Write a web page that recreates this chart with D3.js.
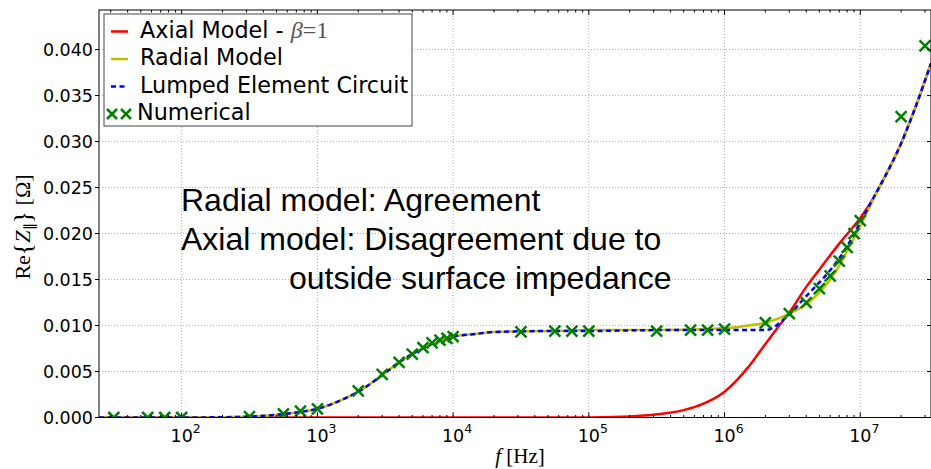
<!DOCTYPE html>
<html>
<head>
<meta charset="utf-8">
<script src="https://cdn.jsdelivr.net/npm/d3@7"></script>
<style>
  body { margin: 0; background: #fff; }
  svg { display: block; }
</style>
</head>
<body>
<div id="app"></div>
<script>
// numerical results (green crosses)
const numFreq = [31.6, 56.2, 75, 100, 316, 562, 750, 1000, 2000, 3000, 4000, 5000, 6000, 7000, 8000, 9000, 10000,
  31600, 56200, 75000, 100000, 316000, 562000, 750000, 1000000,
  2000000, 3000000, 4000000, 5000000, 6000000, 7000000, 8000000, 9000000, 10000000, 20000000, 30000000]
const numValue = [0, 0, 0, 0, 0.0001, 0.0004, 0.0007, 0.00095, 0.0029, 0.0047, 0.0060, 0.0069, 0.0076, 0.0081, 0.0084, 0.0086, 0.0088,
  0.0093, 0.0094, 0.0094, 0.0094, 0.0094, 0.0095, 0.0095, 0.0096,
  0.0103, 0.0113, 0.0125, 0.0140, 0.0154, 0.0170, 0.0185, 0.0200, 0.0214, 0.0327, 0.0404]

// radial model (yellow)
const radFreq = [24.6, 100, 200, 316, 500, 750, 1000, 1500, 2000, 3000, 4000, 5000, 7000, 10000, 15000, 20000, 50000, 100000, 300000, 1000000,
  1500000, 2000000, 3000000, 4000000, 5000000, 6000000, 7000000, 8000000, 10000000, 12000000, 14000000, 20000000, 25000000, 33200000]
const radValue = [0, 0, 0.00003, 0.0001, 0.0003, 0.0006, 0.00095, 0.0019, 0.0028, 0.0046, 0.0060, 0.0069, 0.0080, 0.0088, 0.0091, 0.0093, 0.0094, 0.0095, 0.0095, 0.0097,
  0.0100, 0.0103, 0.0113, 0.0123, 0.0136, 0.0150, 0.0165, 0.0181, 0.0208, 0.0232, 0.0252, 0.0298, 0.0334, 0.0385]

// lumped element circuit (blue dashed)
const lumpFreq = [24.6, 100, 200, 316, 500, 750, 1000, 1500, 2000, 3000, 4000, 5000, 7000, 10000, 15000, 20000, 50000, 100000, 300000, 1000000,
  2000000, 2300000, 2600000, 3000000, 4000000, 5000000, 6000000, 8000000, 10000000, 12000000, 14000000, 20000000, 25000000, 33200000]
const lumpValue = [0, 0, 0.00003, 0.0001, 0.0003, 0.0006, 0.00095, 0.0019, 0.0028, 0.0046, 0.0060, 0.0069, 0.0080, 0.0088, 0.0091, 0.0093, 0.0094, 0.0094, 0.0095, 0.0095,
  0.0095, 0.0098, 0.0104, 0.0112, 0.0132, 0.0147, 0.0160, 0.0186, 0.0212, 0.0234, 0.0252, 0.0298, 0.0334, 0.0385]

// axial model, beta = 1 (red)
const axFreq = [24.6, 70000, 100000, 150000, 200000, 300000, 500000, 700000, 1000000, 1500000, 2000000,
  2500000, 3000000, 4000000, 5000000, 7000000, 10000000, 12000000, 14000000, 20000000, 25000000, 33200000]
const axValue = [0, 0, 0.00001, 0.00005, 0.00012, 0.0003, 0.0008, 0.0015, 0.0028, 0.0055, 0.0080,
  0.0099, 0.0114, 0.0142, 0.0161, 0.0189, 0.0217, 0.0234, 0.0252, 0.0298, 0.0334, 0.0385]

const yTicks = [0, 0.005, 0.010, 0.015, 0.020, 0.025, 0.030, 0.035, 0.040]
const xTicks = [1e2, 1e3, 1e4, 1e5, 1e6, 1e7]
const xTickExp = ['2', '3', '4', '5', '6', '7']

const notes = ['Radial model: Agreement', 'Axial model: Disagreement due to', 'outside surface impedance']

const width = 931
const height = 469
const plot = { left: 99, right: 931, top: 10, bottom: 417.5 }

const x = d3.scaleLog().domain([24.6, 3.32e7]).range([plot.left, plot.right])
const y = d3.scaleLinear().domain([0, 0.0443]).range([plot.bottom, plot.top])

const svg = d3.select('#app').append('svg')
    .attr('width', width)
    .attr('height', height)

svg.append('defs').append('clipPath').attr('id', 'clip')
  .append('rect')
    .attr('x', plot.left).attr('y', plot.top)
    .attr('width', plot.right - plot.left).attr('height', plot.bottom - plot.top)

// grid
const minorTicks = []
for (let e = 1; e <= 7; e++) {
  for (let m = 2; m <= 9; m++) {
    const v = m * Math.pow(10, e)
    if (v > x.domain()[0] && v < x.domain()[1]) minorTicks.push(v)
  }
}

const grid = svg.append('g')
  .attr('stroke', '#b0b0b0')
  .attr('stroke-width', 1)
  .attr('stroke-dasharray', '1,2')
grid.selectAll('.gx').data(xTicks).join('line')
    .attr('x1', d => x(d)).attr('x2', d => x(d))
    .attr('y1', plot.top).attr('y2', plot.bottom)
grid.selectAll('.gy').data(yTicks.slice(1)).join('line')
    .attr('x1', plot.left).attr('x2', plot.right)
    .attr('y1', d => y(d)).attr('y2', d => y(d))

// curves
const toPts = (fs, vs) => fs.map((f, i) => [f, vs[i]])
const line = d3.line()
    .x(d => x(d[0]))
    .y(d => y(d[1]))
    .curve(d3.curveMonotoneX)

const curves = svg.append('g').attr('clip-path', 'url(#clip)').attr('fill', 'none')
curves.append('path')
    .attr('d', line(toPts(axFreq, axValue)))
    .attr('stroke', '#ff0000')
    .attr('stroke-width', 2.5)
curves.append('path')
    .attr('d', line(toPts(radFreq, radValue)))
    .attr('stroke', '#bfbf00')
    .attr('stroke-width', 2.5)
curves.append('path')
    .attr('d', line(toPts(lumpFreq, lumpValue)))
    .attr('stroke', '#0000ff')
    .attr('stroke-width', 2.5)
    .attr('stroke-dasharray', '5,3.5')

// numerical markers
const cross = s => `M${-s},${-s}L${s},${s}M${-s},${s}L${s},${-s}`
curves.selectAll('.num').data(toPts(numFreq, numValue)).join('path')
    .attr('transform', d => `translate(${x(d[0])},${y(d[1])})`)
    .attr('d', cross(5.5))
    .attr('stroke', '#008000')
    .attr('stroke-width', 2.5)

// frame + ticks
svg.append('rect')
    .attr('x', plot.left).attr('y', plot.top)
    .attr('width', plot.right - plot.left).attr('height', plot.bottom - plot.top)
    .attr('fill', 'none').attr('stroke', '#000').attr('stroke-width', 1)

const ticks = svg.append('g').attr('stroke', '#000').attr('stroke-width', 1)
ticks.selectAll('.xb').data(xTicks).join('line')
    .attr('x1', d => x(d)).attr('x2', d => x(d))
    .attr('y1', plot.bottom).attr('y2', plot.bottom - 5)
ticks.selectAll('.xt').data(xTicks).join('line')
    .attr('x1', d => x(d)).attr('x2', d => x(d))
    .attr('y1', plot.top).attr('y2', plot.top + 5)
ticks.selectAll('.mb').data(minorTicks).join('line')
    .attr('x1', d => x(d)).attr('x2', d => x(d))
    .attr('y1', plot.bottom).attr('y2', plot.bottom - 2.5)
ticks.selectAll('.mt').data(minorTicks).join('line')
    .attr('x1', d => x(d)).attr('x2', d => x(d))
    .attr('y1', plot.top).attr('y2', plot.top + 2.5)
ticks.selectAll('.yl').data(yTicks).join('line')
    .attr('x1', plot.left - 4).attr('x2', plot.left)
    .attr('y1', d => y(d)).attr('y2', d => y(d))
ticks.selectAll('.yr').data(yTicks).join('line')
    .attr('x1', plot.right - 4).attr('x2', plot.right)
    .attr('y1', d => y(d)).attr('y2', d => y(d))

// tick labels
svg.append('g').selectAll('text').data(yTicks).join('text')
    .attr('x', plot.left - 6)
    .attr('y', d => y(d))
    .attr('dy', '0.36em')
    .attr('text-anchor', 'end')
    .attr('font-family', 'DejaVu Sans')
    .attr('font-size', 17.5)
    .text(d3.format('.3f'))

const xl = svg.append('g').selectAll('text').data(xTicks).join('text')
    .attr('x', d => x(d) + 4)
    .attr('y', 442)
    .attr('text-anchor', 'middle')
    .attr('font-family', 'DejaVu Sans')
    .attr('font-size', 17.5)
xl.append('tspan').text('10')
xl.append('tspan').attr('dy', -9).attr('font-size', 12.5).text((d, i) => xTickExp[i])

// axis labels
svg.append('text')
    .attr('x', 520).attr('y', 463)
    .attr('text-anchor', 'middle')
    .attr('font-family', 'Liberation Serif')
    .attr('font-size', 21)
    .call(t => {
      t.append('tspan').attr('font-style', 'italic').text('f')
      t.append('tspan').text(' [Hz]')
    })

svg.append('text')
    .attr('transform', 'translate(30,227) rotate(-90)')
    .attr('text-anchor', 'middle')
    .attr('font-family', 'Liberation Serif')
    .attr('font-size', 22)
    .call(t => {
      t.append('tspan').text('Re')
      t.append('tspan').attr('font-size', 26).attr('dy', 1).text('{')
      t.append('tspan').attr('font-style', 'italic').attr('dy', -1).text('Z')
      t.append('tspan').attr('font-size', 14).attr('dy', 4).text('\u2225')
      t.append('tspan').attr('font-size', 26).attr('dy', -3).text('}')
      t.append('tspan').attr('dy', -1).text(' [\u03A9]')
    })

// annotation
svg.append('g').selectAll('text').data(notes).join('text')
    .attr('x', (d, i) => i === 2 ? 289 : 181)
    .attr('y', (d, i) => 211 + i * 39)
    .attr('font-family', 'Liberation Sans')
    .attr('font-size', 32)
    .attr('fill', '#000')
    .text(d => d)

// legend
const legend = svg.append('g')
legend.append('rect')
    .attr('x', 104).attr('y', 14).attr('width', 308).attr('height', 112)
    .attr('fill', '#fff').attr('stroke', '#444').attr('stroke-width', 1)

const legendRows = [
  { label: 'Axial Model - ', color: '#ff0000', dash: null },
  { label: 'Radial Model', color: '#bfbf00', dash: null },
  { label: 'Lumped Element Circuit', color: '#0000ff', dash: '5,3.5' }
]
legendRows.forEach((r, i) => {
  const by = 37.5 + i * 27.5
  legend.append('line')
      .attr('x1', 111).attr('x2', 128)
      .attr('y1', by - 6).attr('y2', by - 6)
      .attr('stroke', r.color).attr('stroke-width', 2.5)
      .attr('stroke-dasharray', r.dash)
  const t = legend.append('text')
      .attr('x', 140).attr('y', by)
      .attr('font-family', 'DejaVu Sans')
      .attr('font-size', 22.3)
      .text(r.label)
  if (i === 0) {
    t.append('tspan').attr('font-family', 'Liberation Serif').attr('font-size', 24).attr('font-style', 'italic').attr('fill', '#555').text('\u03B2')
    t.append('tspan').attr('font-family', 'Liberation Serif').attr('font-size', 24).attr('fill', '#555').text('=1')
  }
})
const my = 114
;[112, 126].forEach(cx => {
  legend.append('path')
      .attr('transform', `translate(${cx},${my})`)
      .attr('d', cross(5))
      .attr('stroke', '#008000').attr('stroke-width', 2.5)
})
legend.append('text')
    .attr('x', 137).attr('y', 119.5)
    .attr('font-family', 'DejaVu Sans')
    .attr('font-size', 22.3)
    .text('Numerical')
</script>
</body>
</html>
